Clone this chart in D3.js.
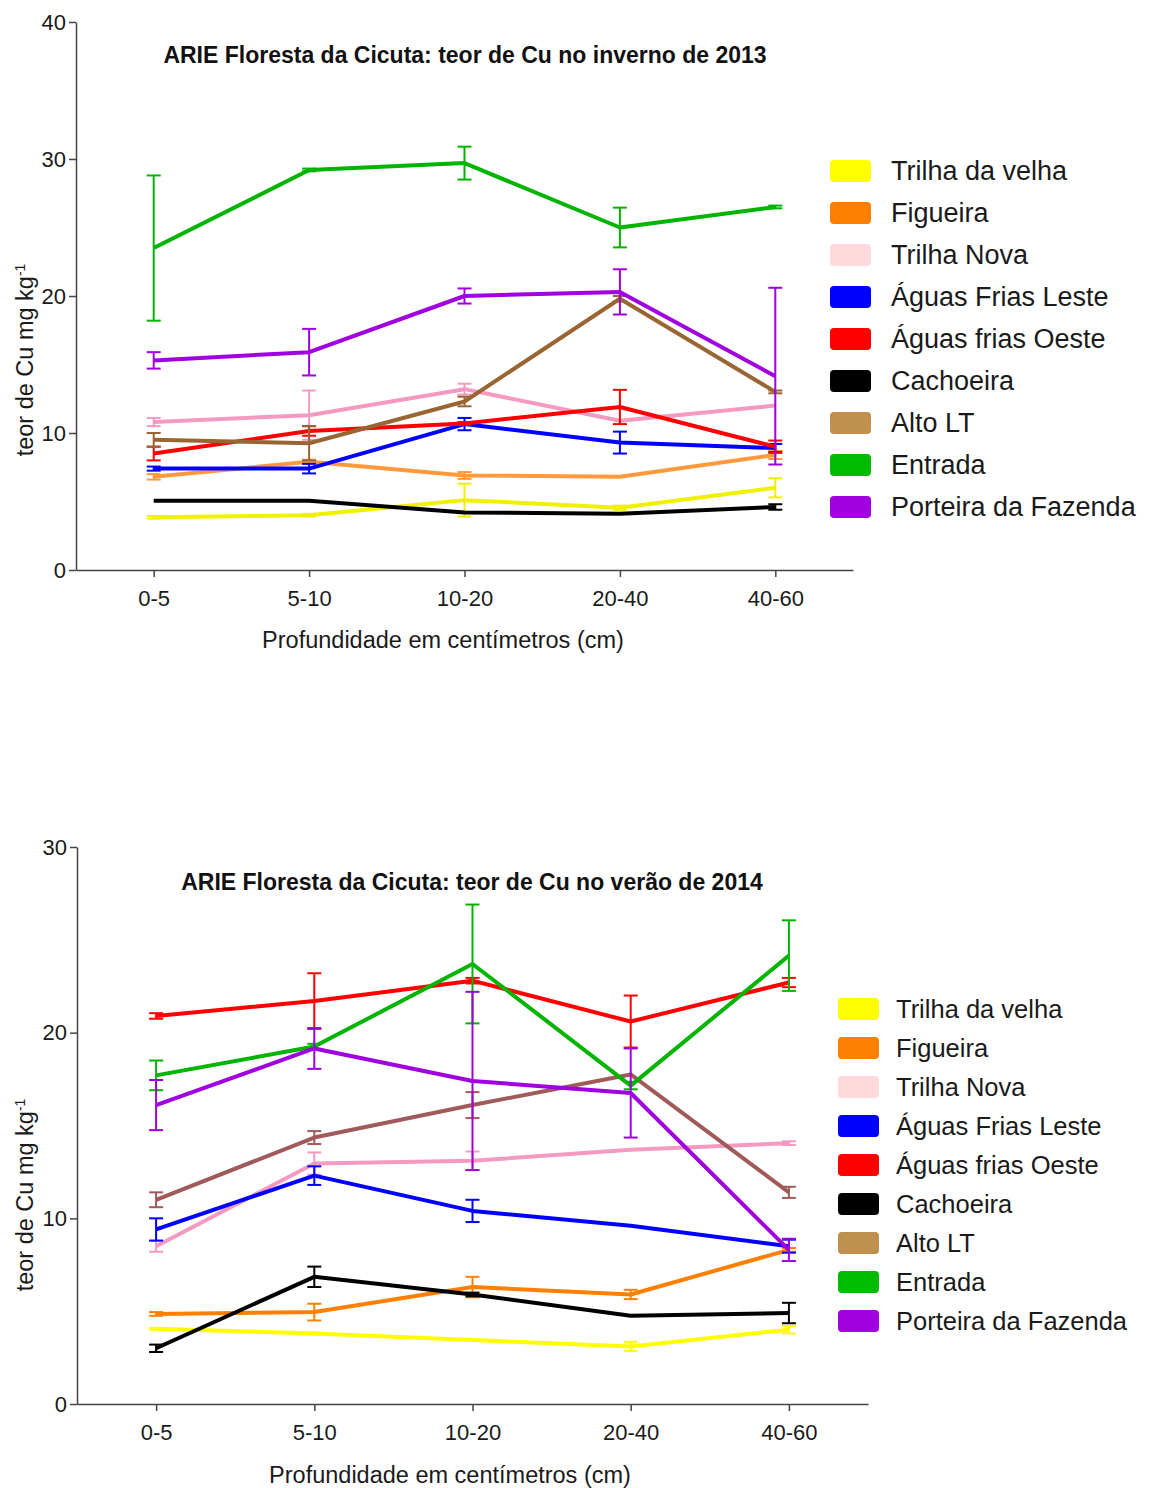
<!DOCTYPE html>
<html>
<head>
<meta charset="utf-8">
<script src="https://cdn.jsdelivr.net/npm/d3@7"></script>
<style>
  html, body { margin: 0; padding: 0; background: #fff; }
  svg { display: block; font-family: "Liberation Sans", Arial, sans-serif; }
</style>
</head>
<body>
<svg id="fig" width="1157" height="1488"></svg>
<script>
// Soil depth classes (cm)
const depths = ["0-5", "5-10", "10-20", "20-40", "40-60"];

// Sampling sites, in legend order
const sites = ["Trilha da velha", "Figueira", "Trilha Nova", "Águas Frias Leste",
  "Águas frias Oeste", "Cachoeira", "Alto LT", "Entrada", "Porteira da Fazenda"];

// Legend swatch colours
const legendColors = ["#ffff00", "#ff8000", "#ffd9dc", "#0000ff", "#ff0000",
  "#000000", "#c0904e", "#00bb00", "#a000e0"];

// Line colours, winter 2013
const lineColors2013 = ["#f0f000", "#ff9a3c", "#f49ac2", "#0000ff", "#ff0000",
  "#000000", "#996633", "#00b400", "#a000e0"];
// Line colours, summer 2014
const lineColors2014 = ["#ffff00", "#ff8000", "#f49ac2", "#0000ff", "#ff0000",
  "#000000", "#a05a5a", "#00b400", "#a000e0"];

// Winter 2013 – Cu content (mg kg-1), mean per depth
const cuWinter2013 = [
  [3.85, 4.0, 5.1, 4.55, 6.0],    // Trilha da velha
  [6.8, 7.9, 6.9, 6.8, 8.4],      // Figueira
  [10.8, 11.3, 13.2, 10.9, 12.0], // Trilha Nova
  [7.4, 7.4, 10.65, 9.3, 8.9],    // Águas Frias Leste
  [8.5, 10.15, 10.7, 11.9, 9.0],  // Águas frias Oeste
  [5.06, 5.06, 4.2, 4.1, 4.6],    // Cachoeira
  [9.5, 9.25, 12.3, 19.8, 13.0],  // Alto LT
  [23.5, 29.2, 29.7, 25.0, 26.5], // Entrada
  [15.3, 15.9, 20.0, 20.3, 14.15] // Porteira da Fazenda
];
// Winter 2013 – error (±)
const errWinter2013 = [
  [0.1, 0.1, 1.2, 0.15, 0.7],
  [0.2, 0.15, 0.25, 0, 0.3],
  [0.3, 1.8, 0.4, 0, 0],
  [0.15, 0.35, 0.45, 0.8, 0.3],
  [0.5, 0.35, 0.1, 1.25, 0.45],
  [0, 0, 0, 0, 0.2],
  [0.5, 1.25, 0.35, 0.2, 0.1],
  [5.3, 0.1, 1.2, 1.45, 0.1],
  [0.6, 1.7, 0.55, 1.65, 6.45]
];

// Summer 2014 – Cu content (mg kg-1), mean per depth
const cuSummer2014 = [
  [4.05, 3.8, 3.45, 3.1, 4.0],      // Trilha da velha
  [4.85, 4.95, 6.3, 5.9, 8.3],      // Figueira
  [8.5, 12.95, 13.1, 13.7, 14.05],  // Trilha Nova
  [9.4, 12.3, 10.4, 9.6, 8.5],      // Águas Frias Leste
  [20.9, 21.7, 22.8, 20.6, 22.7],   // Águas frias Oeste
  [3.0, 6.85, 5.9, 4.75, 4.9],      // Cachoeira
  [11.0, 14.35, 16.1, 17.75, 11.4], // Alto LT
  [17.7, 19.25, 23.7, 17.15, 24.15],// Entrada
  [16.1, 19.15, 17.4, 16.75, 8.3]   // Porteira da Fazenda
];
// Summer 2014 – error (±)
const errSummer2014 = [
  [0.05, 0.05, 0, 0.25, 0.2],
  [0.1, 0.45, 0.55, 0.25, 0.1],
  [0.3, 0.6, 0.5, 0, 0.1],
  [0.6, 0.5, 0.6, 0, 0.35],
  [0.15, 1.5, 0.15, 1.4, 0.25],
  [0.2, 0.55, 0.1, 0, 0.55],
  [0.4, 0.35, 0.7, 0, 0.3],
  [0.8, 0.15, 3.2, 0.2, 1.9],
  [1.35, 1.1, 4.8, 2.4, 0.6]
];

const ticks2013 = [0, 10, 20, 30, 40];
const ticks2014 = [0, 10, 20, 30];

const titles = [
  "ARIE Floresta da Cicuta: teor de Cu no inverno de 2013",
  "ARIE Floresta da Cicuta: teor de Cu no verão de 2014"
];
const xTitle = "Profundidade em centímetros (cm)";

const svg = d3.select("#fig");

function panel(cfg) {
  const g = svg.append("g");
  const x = d3.scalePoint().domain(depths).range([cfg.left, cfg.right]).padding(0.5);
  const y = d3.scaleLinear().domain([0, cfg.yMax]).range([cfg.bottom, cfg.top]);

  // axes
  const yAxis = d3.axisLeft(y).tickValues(cfg.ticks).tickSize(7).tickSizeOuter(0).tickPadding(3);
  const xAxis = d3.axisBottom(x).tickSize(7).tickSizeOuter(0).tickPadding(13);

  const ya = g.append("g").attr("transform", `translate(${cfg.left},0)`).call(yAxis);
  const xa = g.append("g").attr("transform", `translate(0,${cfg.bottom})`).call(xAxis);
  [ya, xa].forEach(a => {
    a.select(".domain").attr("stroke", "#444").attr("stroke-width", 1.5);
    a.selectAll(".tick line").attr("stroke", "#444").attr("stroke-width", 1.5);
    a.selectAll(".tick text").attr("fill", "#1a1a1a").style("font-size", "22px")
      .style("font-family", "'Liberation Sans', Arial, sans-serif");
  });

  // title
  g.append("text")
    .attr("x", cfg.titleX).attr("y", cfg.titleY)
    .attr("text-anchor", "middle")
    .style("font-size", "23px").style("font-weight", "bold")
    .attr("fill", "#111")
    .text(cfg.title);

  // x axis title
  g.append("text")
    .attr("x", cfg.xTitleX).attr("y", cfg.xTitleY)
    .attr("text-anchor", "middle")
    .style("font-size", "23.5px").attr("fill", "#1a1a1a")
    .text(xTitle);

  // y axis title
  const yt = g.append("text")
    .attr("transform", `translate(${cfg.yTitleX},${cfg.yTitleY}) rotate(-90)`)
    .attr("text-anchor", "middle")
    .style("font-size", "23.5px").attr("fill", "#1a1a1a");
  yt.append("tspan").text("teor de Cu mg kg");
  yt.append("tspan").attr("dy", "-0.55em").style("font-size", "14px").text("-1");

  const line = d3.line().x((d, i) => x(depths[i])).y(d => y(d));

  // series
  cfg.values.forEach((vals, s) => {
    const col = cfg.colors[s];
    const sg = g.append("g");
    // error bars
    vals.forEach((v, i) => {
      const e = cfg.errors[s][i];
      if (e <= 0) return;
      const cx = x(depths[i]);
      sg.append("line").attr("x1", cx).attr("x2", cx)
        .attr("y1", y(v - e)).attr("y2", y(v + e))
        .attr("stroke", col).attr("stroke-width", 2);
      [v - e, v + e].forEach(w => {
        sg.append("line").attr("x1", cx - 7).attr("x2", cx + 7)
          .attr("y1", y(w)).attr("y2", y(w))
          .attr("stroke", col).attr("stroke-width", 2);
      });
    });
    sg.append("path").datum(vals)
      .attr("d", line).attr("fill", "none")
      .attr("stroke", col).attr("stroke-width", 4)
      .attr("stroke-linejoin", "round");
  });

  // legend
  const ly = d3.scalePoint().domain(sites).range([cfg.legTop, cfg.legBottom]);
  const lg = g.append("g");
  sites.forEach((name, s) => {
    lg.append("rect")
      .attr("x", cfg.legX).attr("y", ly(name) - 11)
      .attr("width", 41).attr("height", 22).attr("rx", 4)
      .attr("fill", legendColors[s]);
    lg.append("text")
      .attr("x", cfg.legX + cfg.legGap).attr("y", ly(name))
      .attr("dy", "0.35em")
      .style("font-size", cfg.legFont).attr("fill", "#1a1a1a")
      .text(name);
  });
}

panel({
  left: 76, right: 853, top: 22, bottom: 570, yMax: 40, ticks: ticks2013,
  values: cuWinter2013, errors: errWinter2013, colors: lineColors2013,
  title: titles[0], titleX: 465, titleY: 63,
  xTitleX: 443, xTitleY: 648, yTitleX: 33, yTitleY: 360,
  legX: 830, legGap: 61, legTop: 171, legBottom: 507, legFont: "27px"
});

panel({
  left: 77, right: 868, top: 847, bottom: 1404, yMax: 30, ticks: ticks2014,
  values: cuSummer2014, errors: errSummer2014, colors: lineColors2014,
  title: titles[1], titleX: 472, titleY: 890,
  xTitleX: 450, xTitleY: 1483, yTitleX: 33, yTitleY: 1195,
  legX: 838, legGap: 58, legTop: 1009, legBottom: 1321, legFont: "25.5px"
});
</script>
</body>
</html>
